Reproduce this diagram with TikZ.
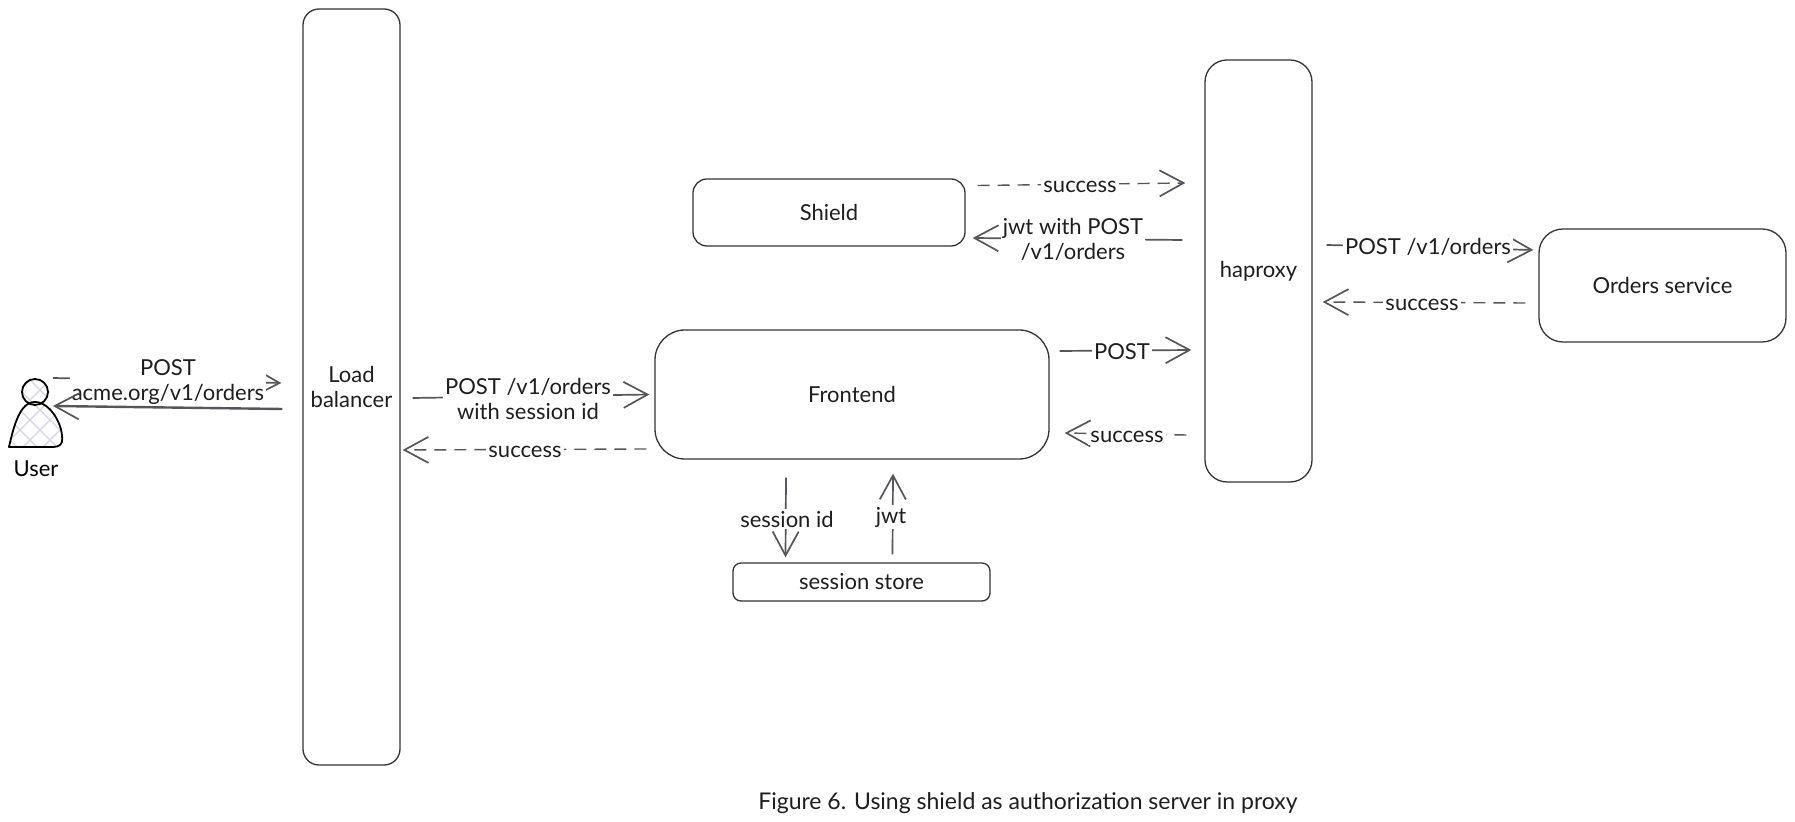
\documentclass[tikz,border=0pt]{standalone}
\usepackage{fontspec}
\setmainfont{Lato}
\usetikzlibrary{arrows.meta}
\definecolor{ink}{HTML}{1E1E1E}
\definecolor{wire}{HTML}{55555B}
\definecolor{boxline}{HTML}{33333A}
\definecolor{hatch}{HTML}{D3D6DF}
\tikzset{
  bx/.style={draw=boxline,line width=.65pt,inner sep=0pt,text=ink,align=center,font=\fontsize{11}{12.5}\selectfont},
  conn/.style={draw=wire,line width=.85pt,-{Straight Barb[length=12pt,width=13pt,line width=.85pt]}},
  dconn/.style={conn,line width=.7pt,dash pattern=on 6pt off 4pt},
  lbl/.style={fill=white,text=ink,inner sep=1pt,align=center,font=\fontsize{11}{12.5}\selectfont},
  person/.style={draw=black,line width=.9pt,line join=round}
}
\begin{document}
\begin{tikzpicture}[x=0.5pt,y=-0.5pt]
\useasboundingbox (0,0) rectangle (1795,822);
\fill[white] (0,0) rectangle (1795,822);
% boxes
\node[bx,rounded corners=8pt,minimum width=48.5pt,minimum height=378pt] (lb) at (351.5,387) {\raisebox{-.5pt}{Load}\\\raisebox{-.5pt}{balancer}};
\node[bx,rounded corners=7pt,minimum width=136pt,minimum height=33.5pt] (sh) at (829,212.5) {Shield};
\node[bx,rounded corners=15pt,minimum width=197pt,minimum height=64.5pt] (fe) at (852,394.5) {Frontend};
\node[bx,rounded corners=11pt,minimum width=53.5pt,minimum height=211pt] (ha) at (1258.5,271) {\raisebox{-1.5pt}{haproxy}};
\node[bx,rounded corners=12pt,minimum width=123.5pt,minimum height=56.5pt] (os) at (1662.5,285.5) {\raisebox{-.5pt}{Orders service}};
\node[bx,rounded corners=4pt,minimum width=128.5pt,minimum height=19pt] (st) at (861.5,582) {\raisebox{-1pt}{session store}};
% user
\coordinate (usr) at (35,420);
\begin{scope}
  \clip (35,392) circle (13);
  \foreach \k in {-80,-60,...,120} {
    \draw[hatch,line width=.6pt] (\k,370) -- ++(90,90);
    \draw[hatch,line width=.6pt] (\k,370) -- ++(-90,90);
  }
\end{scope}
\begin{scope}
  \clip (9,447) .. controls (14,425) and (20,402) .. (35,402) .. controls (50,402) and (64,425) .. (62,442) .. controls (60,447) and (56,447) .. (50,447) -- cycle;
  \foreach \k in {-80,-60,...,180} {
    \draw[hatch,line width=.6pt] (\k,370) -- ++(100,100);
    \draw[hatch,line width=.6pt] (\k,370) -- ++(-100,100);
  }
\end{scope}
\draw[person] (35,392) circle (13);
\draw[person] (9,447) .. controls (14,425) and (20,402) .. (35,402) .. controls (50,402) and (64,425) .. (62,442) .. controls (60,447) and (56,447) .. (50,447) -- cycle;
\node[text=black,inner sep=0pt,font=\fontsize{11}{12.5}\selectfont] (userlbl) at (36,469) {User};
% connectors
\draw[conn] ([shift={(18,-42)}]usr) -- ([shift={(-21,-4)}]lb.west);
\node[lbl] (l1) at (168,382) {POST\\acme.org/v1/orders};
\draw[conn,line width=1.2pt] ([shift={(-20,22)}]lb.west) -- ([shift={(18,-14)}]usr);

\draw[conn] ([shift={(12,11)}]lb.east) -- ([shift={(-5,0)}]fe.west);
\node[lbl] (l3) at (528,399) {POST /v1/orders\\with session id};
\draw[dconn] ([shift={(-8,54.5)}]fe.west) -- ([shift={(2,63)}]lb.east);
\node[lbl] (l4) at (525,452) {success};

\draw[dconn] ([shift={(12,-27)}]sh.east) -- ([shift={(-19,-88)}]ha.west);
\node[lbl] (l5) at (1080,187) {success};
\draw[conn] ([shift={(-22,-31)}]ha.west) -- ([shift={(7,25.5)}]sh.east);
\node[lbl] (l6) at (1073,239) {jwt with POST\\/v1/orders};
\draw[conn] ([shift={(10,-43.5)}]fe.east) -- ([shift={(-13,79)}]ha.west);
\node[lbl] (l7) at (1122,352) {POST};
\draw[dconn] ([shift={(-18,164)}]ha.west) -- ([shift={(15,38.5)}]fe.east);
\node[lbl] (l8) at (1127,437) {success};

\draw[conn] ([shift={(14,-26)}]ha.east) -- ([shift={(-5,-35.5)}]os.west);
\node[lbl] (l9) at (1428,247) {POST /v1/orders};
\draw[dconn] ([shift={(-13,17.5)}]os.west) -- ([shift={(10,31)}]ha.east);
\node[lbl] (l10) at (1422,305) {success};

\draw[conn] ([shift={(-66,18)}]fe.south) -- ([shift={(-76,-5)}]st.north);
\node[lbl] (l11) at (787,519) {session id};
\draw[conn] ([shift={(31,-8)}]st.north) -- ([shift={(41,14)}]fe.south);
\node[lbl] (l12) at (891,517) {jwt};
% caption
\node[text=ink,inner sep=0pt,font=\fontsize{11.5}{13}\selectfont] (cap) at (1028,803) {Figure 6. Using shield as authorization server in proxy};
\end{tikzpicture}
\end{document}
